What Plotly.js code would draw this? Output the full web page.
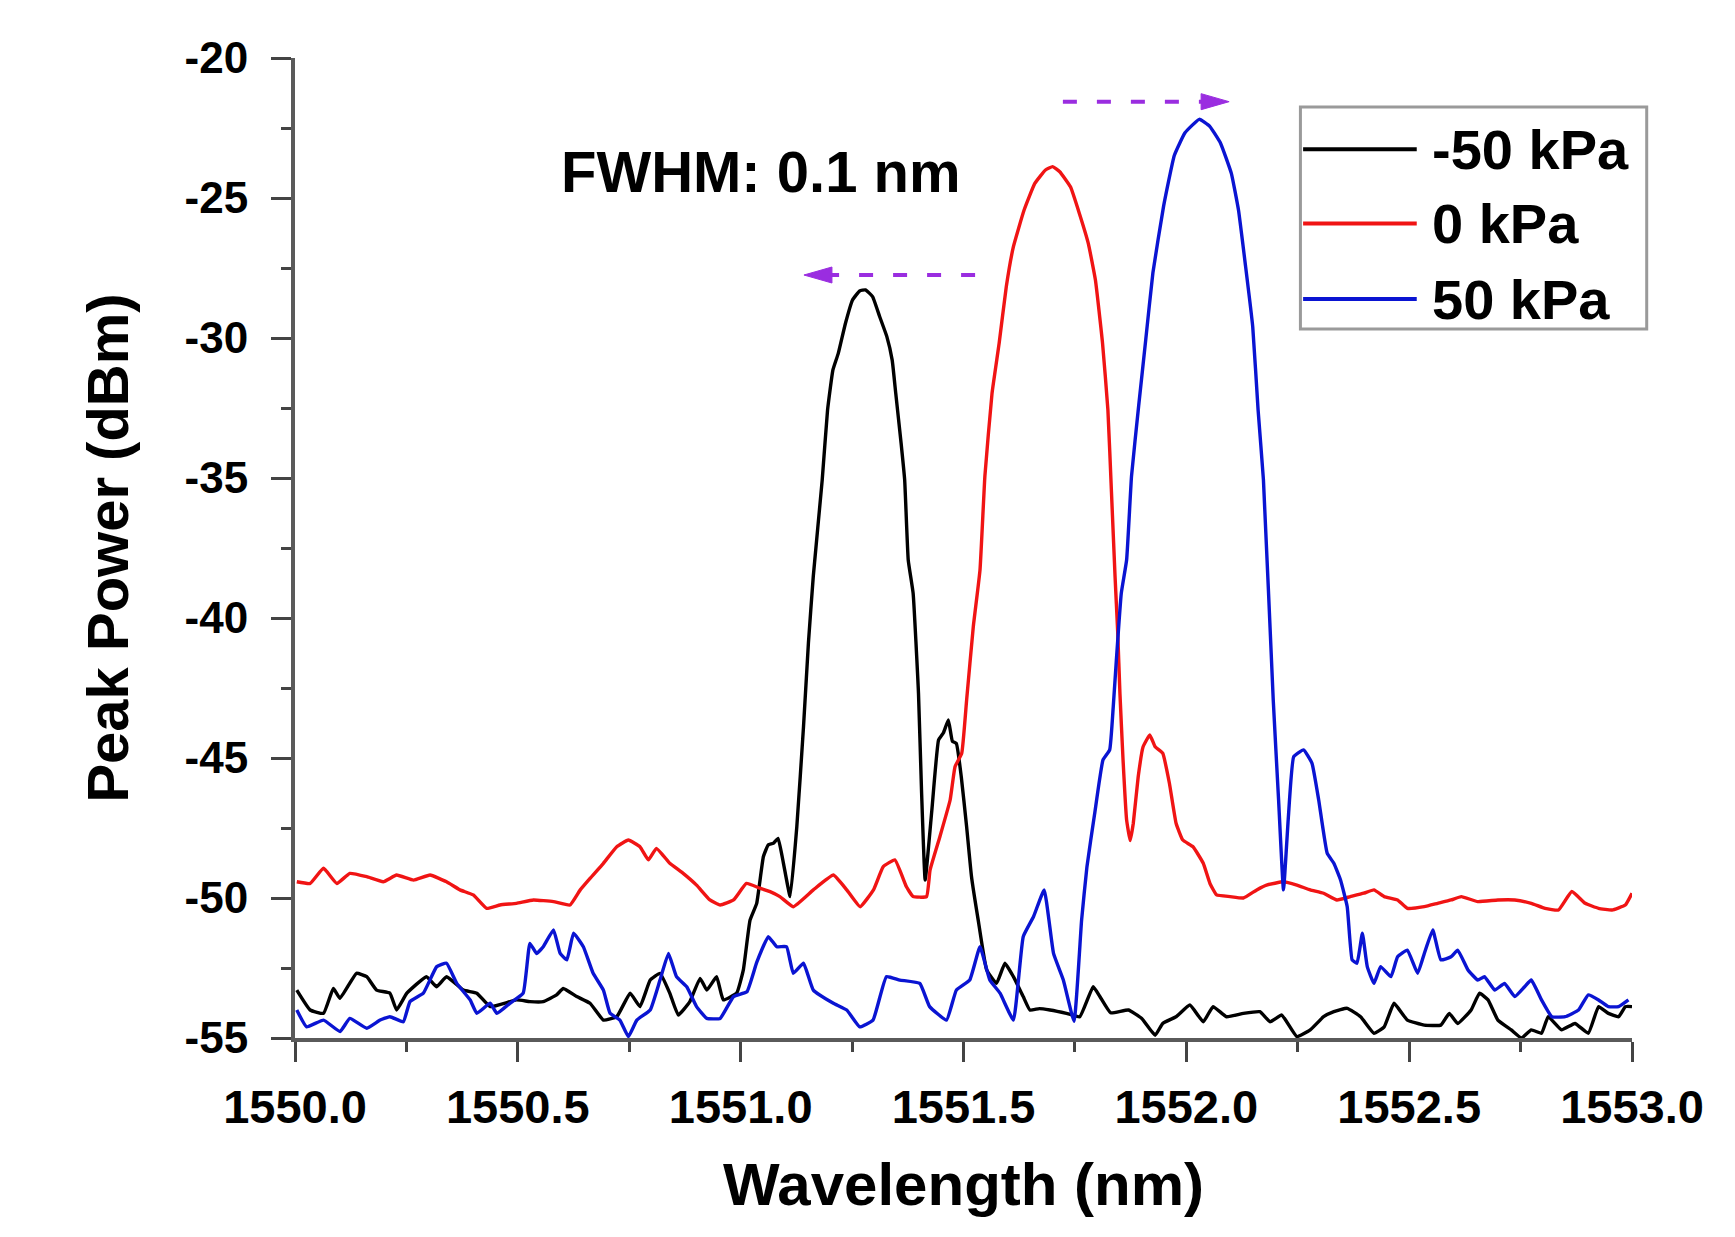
<!DOCTYPE html>
<html>
<head>
<meta charset="utf-8">
<script src="https://cdn.plot.ly/plotly-3.0.1.min.js"></script>
<style>
  body { margin: 0; background: #fff; }
  #chart { width: 1735px; height: 1237px; }
</style>
</head>
<body>
<div id="chart"></div>
<script>
// series (wavelength nm, peak power dBm)
var seriesNames = ['-50 kPa', '0 kPa', '50 kPa'];
var seriesColors = ['#000000', '#f01414', '#0a14d2'];

var blackX = [1550.004, 1550.034, 1550.064, 1550.086, 1550.101, 1550.138, 1550.161, 1550.183, 1550.213, 1550.228,
  1550.251, 1550.295, 1550.318, 1550.340, 1550.378, 1550.408, 1550.438, 1550.497, 1550.527, 1550.557,
  1550.587, 1550.602, 1550.632, 1550.662, 1550.692, 1550.722, 1550.752, 1550.774, 1550.797, 1550.819,
  1550.841, 1550.860, 1550.886, 1550.909, 1550.924, 1550.946, 1550.961, 1550.991, 1551.006, 1551.021,
  1551.036, 1551.051, 1551.062, 1551.073, 1551.084, 1551.096, 1551.111, 1551.126, 1551.141, 1551.152,
  1551.163, 1551.183, 1551.195, 1551.207, 1551.219, 1551.235, 1551.251, 1551.267, 1551.280, 1551.296,
  1551.312, 1551.328, 1551.340, 1551.348, 1551.360, 1551.368, 1551.376, 1551.387, 1551.399, 1551.406,
  1551.414, 1551.429, 1551.444, 1551.455, 1551.466, 1551.475, 1551.484, 1551.495, 1551.507, 1551.518,
  1551.533, 1551.552, 1551.574, 1551.593, 1551.612, 1551.634, 1551.649, 1551.670, 1551.694, 1551.731,
  1551.761, 1551.791, 1551.806, 1551.830, 1551.870, 1551.900, 1551.930, 1551.947, 1551.977, 1552.008,
  1552.038, 1552.060, 1552.090, 1552.128, 1552.165, 1552.188, 1552.214, 1552.248, 1552.278, 1552.308,
  1552.331, 1552.361, 1552.391, 1552.421, 1552.444, 1552.466, 1552.496, 1552.534, 1552.571, 1552.590,
  1552.609, 1552.639, 1552.658, 1552.677, 1552.699, 1552.729, 1552.752, 1552.774, 1552.797, 1552.812,
  1552.842, 1552.872, 1552.902, 1552.925, 1552.947, 1552.970, 1552.985, 1553.000];
var blackY = [-53.29, -54.00, -54.12, -53.23, -53.58, -52.69, -52.81, -53.29, -53.40, -54.00,
  -53.40, -52.81, -53.17, -52.81, -53.29, -53.40, -53.88, -53.64, -53.70, -53.70,
  -53.46, -53.23, -53.52, -53.76, -54.36, -54.24, -53.40, -53.88, -52.93, -52.69,
  -53.40, -54.18, -53.70, -52.87, -53.29, -52.81, -53.64, -53.40, -52.57, -50.79,
  -50.19, -48.52, -48.10, -48.05, -47.87, -48.76, -49.95, -47.45, -43.88, -40.90,
  -38.50, -35.07, -32.57, -31.14, -30.55, -29.48, -28.64, -28.32, -28.28, -28.52,
  -29.24, -29.95, -30.79, -31.98, -33.76, -35.07, -37.93, -39.12, -42.69, -46.26,
  -49.36, -46.86, -44.36, -44.10, -43.64, -44.40, -44.48, -45.67, -47.45, -49.24,
  -50.79, -52.57, -53.05, -52.33, -52.81, -53.52, -54.00, -53.95, -54.00, -54.12,
  -54.24, -53.17, -53.52, -54.10, -54.00, -54.30, -54.90, -54.48, -54.24, -53.82,
  -54.42, -53.88, -54.24, -54.12, -54.06, -54.42, -54.18, -54.95, -54.71, -54.24,
  -54.06, -53.94, -54.24, -54.83, -54.60, -53.76, -54.36, -54.54, -54.54, -54.12,
  -54.48, -54.00, -53.40, -53.64, -54.36, -54.71, -55.00, -54.71, -54.83, -54.24,
  -54.71, -54.48, -54.83, -53.88, -54.12, -54.24, -53.88, -53.88];

var redX = [1550.004, 1550.034, 1550.064, 1550.094, 1550.123, 1550.161, 1550.198, 1550.228, 1550.266, 1550.303,
  1550.340, 1550.370, 1550.400, 1550.430, 1550.460, 1550.497, 1550.535, 1550.580, 1550.617, 1550.640,
  1550.662, 1550.692, 1550.722, 1550.748, 1550.774, 1550.793, 1550.811, 1550.841, 1550.871, 1550.901,
  1550.931, 1550.954, 1550.984, 1551.013, 1551.043, 1551.066, 1551.088, 1551.118, 1551.163, 1551.208,
  1551.238, 1551.268, 1551.298, 1551.320, 1551.346, 1551.372, 1551.387, 1551.417, 1551.425, 1551.447,
  1551.470, 1551.481, 1551.496, 1551.507, 1551.522, 1551.537, 1551.548, 1551.564, 1551.580, 1551.596,
  1551.612, 1551.636, 1551.660, 1551.684, 1551.700, 1551.716, 1551.740, 1551.760, 1551.780, 1551.796,
  1551.812, 1551.824, 1551.832, 1551.840, 1551.846, 1551.851, 1551.858, 1551.866, 1551.874, 1551.881,
  1551.892, 1551.903, 1551.918, 1551.930, 1551.947, 1551.962, 1551.977, 1551.992, 1552.015, 1552.038,
  1552.053, 1552.068, 1552.098, 1552.128, 1552.158, 1552.180, 1552.218, 1552.248, 1552.278, 1552.308,
  1552.338, 1552.368, 1552.398, 1552.421, 1552.444, 1552.474, 1552.496, 1552.534, 1552.564, 1552.594,
  1552.617, 1552.654, 1552.699, 1552.737, 1552.774, 1552.805, 1552.835, 1552.865, 1552.895, 1552.925,
  1552.955, 1552.985, 1553.000];
var redY = [-49.42, -49.48, -48.94, -49.48, -49.12, -49.24, -49.42, -49.18, -49.36, -49.18,
  -49.42, -49.71, -49.89, -50.37, -50.25, -50.19, -50.07, -50.13, -50.25, -49.71,
  -49.30, -48.76, -48.17, -47.93, -48.17, -48.64, -48.23, -48.76, -49.12, -49.54,
  -50.07, -50.25, -50.07, -49.48, -49.65, -49.77, -49.95, -50.31, -49.71, -49.18,
  -49.71, -50.31, -49.71, -48.88, -48.64, -49.60, -49.95, -49.95, -49.00, -47.81,
  -46.50, -45.31, -44.83, -42.93, -40.31, -38.29, -34.93, -31.98, -30.19, -28.17,
  -26.74, -25.43, -24.48, -24.00, -23.88, -24.06, -24.60, -25.55, -26.62, -27.93,
  -30.19, -32.57, -35.50, -38.50, -40.50, -42.69, -45.07, -47.21, -47.95, -47.33,
  -45.67, -44.60, -44.18, -44.60, -44.83, -45.90, -47.33, -47.93, -48.17, -48.76,
  -49.48, -49.89, -49.95, -50.00, -49.71, -49.54, -49.42, -49.54, -49.71, -49.83,
  -50.07, -49.95, -49.83, -49.71, -49.95, -50.07, -50.37, -50.31, -50.19, -50.07,
  -49.95, -50.13, -50.07, -50.07, -50.19, -50.37, -50.43, -49.77, -50.19, -50.37,
  -50.43, -50.25, -49.83];

var blueX = [1550.004, 1550.026, 1550.064, 1550.101, 1550.123, 1550.161, 1550.191, 1550.213, 1550.243, 1550.258,
  1550.288, 1550.318, 1550.340, 1550.363, 1550.393, 1550.408, 1550.438, 1550.453, 1550.482, 1550.512,
  1550.527, 1550.542, 1550.557, 1550.580, 1550.595, 1550.610, 1550.625, 1550.647, 1550.669, 1550.692,
  1550.707, 1550.729, 1550.748, 1550.767, 1550.797, 1550.819, 1550.838, 1550.856, 1550.879, 1550.901,
  1550.924, 1550.954, 1550.984, 1551.014, 1551.036, 1551.062, 1551.081, 1551.103, 1551.118, 1551.141,
  1551.163, 1551.208, 1551.238, 1551.267, 1551.297, 1551.327, 1551.357, 1551.402, 1551.424, 1551.462,
  1551.484, 1551.514, 1551.537, 1551.559, 1551.582, 1551.612, 1551.634, 1551.657, 1551.681, 1551.702,
  1551.724, 1551.748, 1551.765, 1551.777, 1551.794, 1551.813, 1551.828, 1551.836, 1551.843, 1551.854,
  1551.866, 1551.877, 1551.893, 1551.909, 1551.925, 1551.949, 1551.973, 1551.997, 1552.029, 1552.053,
  1552.077, 1552.101, 1552.117, 1552.133, 1552.149, 1552.161, 1552.173, 1552.195, 1552.207, 1552.218,
  1552.229, 1552.241, 1552.263, 1552.282, 1552.297, 1552.316, 1552.331, 1552.346, 1552.361, 1552.372,
  1552.383, 1552.395, 1552.406, 1552.421, 1552.436, 1552.459, 1552.474, 1552.496, 1552.519, 1552.534,
  1552.553, 1552.571, 1552.594, 1552.609, 1552.632, 1552.654, 1552.669, 1552.692, 1552.714, 1552.737,
  1552.759, 1552.774, 1552.797, 1552.820, 1552.850, 1552.880, 1552.902, 1552.925, 1552.947, 1552.970,
  1552.992];
var blueY = [-54.00, -54.60, -54.36, -54.77, -54.30, -54.65, -54.36, -54.24, -54.42, -53.70,
  -53.40, -52.45, -52.33, -53.05, -53.64, -54.12, -53.76, -54.12, -53.76, -53.40,
  -51.62, -51.98, -51.74, -51.14, -51.98, -52.21, -51.26, -51.74, -52.69, -53.29,
  -54.12, -54.36, -54.95, -54.36, -54.00, -52.93, -51.98, -52.81, -53.17, -53.88,
  -54.30, -54.30, -53.52, -53.35, -52.30, -51.38, -51.74, -51.74, -52.69, -52.33,
  -53.29, -53.76, -54.00, -54.60, -54.36, -52.81, -52.93, -53.05, -53.88, -54.36,
  -53.29, -52.93, -51.74, -52.93, -53.40, -54.36, -51.38, -50.67, -49.71, -51.98,
  -52.93, -54.40, -50.79, -48.88, -47.02, -45.07, -44.71, -43.17, -41.50, -39.12,
  -37.93, -34.93, -32.43, -30.05, -27.67, -25.29, -23.48, -22.67, -22.19, -22.45,
  -23.05, -24.12, -25.43, -27.45, -29.60, -32.57, -35.07, -42.93, -46.50, -49.71,
  -47.10, -44.95, -44.71, -45.19, -46.50, -48.40, -48.76, -49.36, -50.31, -52.21,
  -52.33, -51.26, -52.45, -53.05, -52.45, -52.81, -52.10, -51.86, -52.69, -51.98,
  -51.14, -52.21, -52.10, -51.86, -52.57, -52.93, -52.81, -53.29, -53.05, -53.52,
  -53.17, -52.93, -53.64, -54.24, -54.24, -54.00, -53.46, -53.64, -53.88, -53.88,
  -53.64];

var xTickVals = [1550.0, 1550.5, 1551.0, 1551.5, 1552.0, 1552.5, 1553.0];
var xTickText = ['1550.0', '1550.5', '1551.0', '1551.5', '1552.0', '1552.5', '1553.0'];
var yTickVals = [-55, -50, -45, -40, -35, -30, -25, -20];
var yTickText = ['-55', '-50', '-45', '-40', '-35', '-30', '-25', '-20'];

// shift arrows: [x start, x tip, y]
var shiftLeft = [1551.526, 1551.142, -27.75];
var shiftRight = [1551.723, 1552.096, -21.56];
var noteText = 'FWHM: 0.1 nm';
var notePos = [1551.046, -24.04];

var fontFam = '"Liberation Sans", Arial, Helvetica, sans-serif';
var arrowColor = '#9a2de0';

var traces = [
  { x: blackX, y: blackY, name: seriesNames[0], mode: 'lines', line: { color: seriesColors[0], width: 3.4, shape: 'spline', smoothing: 0.35 } },
  { x: redX, y: redY, name: seriesNames[1], mode: 'lines', line: { color: seriesColors[1], width: 3.4, shape: 'spline', smoothing: 0.35 } },
  { x: blueX, y: blueY, name: seriesNames[2], mode: 'lines', line: { color: seriesColors[2], width: 3.4, shape: 'spline', smoothing: 0.35 } }
];

var shapes = [];
var annotations = [];

// legend drawn by hand so the sample lines can be long like the original
var legRows = [0.907, 0.831, 0.754];
shapes.push({ type: 'rect', xref: 'paper', yref: 'paper', x0: 0.752, x1: 1.011, y0: 0.7235, y1: 0.950,
  line: { color: '#9a9a9a', width: 3 }, fillcolor: 'rgba(255,255,255,0)' });
for (var i = 0; i < seriesNames.length; i++) {
  shapes.push({ type: 'line', xref: 'paper', yref: 'paper', x0: 0.754, x1: 0.839, y0: legRows[i], y1: legRows[i],
    line: { color: seriesColors[i], width: 4 } });
  annotations.push({ xref: 'paper', yref: 'paper', x: 0.849, y: legRows[i], xanchor: 'left', yanchor: 'middle',
    text: seriesNames[i], showarrow: false, font: { family: fontFam, size: 56, weight: 'bold', color: '#000' } });
}

// dashed arrows
[shiftLeft, shiftRight].forEach(function (a) {
  var dir = a[1] > a[0] ? 1 : -1;
  shapes.push({ type: 'line', xref: 'x', yref: 'y', x0: a[0], x1: a[1] - dir * 0.045, y0: a[2], y1: a[2],
    line: { color: arrowColor, width: 4, dash: '14px,20px' } });
  shapes.push({ type: 'path', xref: 'x', yref: 'y', xsizemode: 'pixel', ysizemode: 'pixel',
    xanchor: a[1], yanchor: a[2],
    path: dir < 0 ? 'M0,0 L28,8 L28,-8 Z' : 'M0,0 L-28,8 L-28,-8 Z',
    fillcolor: arrowColor, line: { color: arrowColor, width: 1 } });
});

annotations.push({ x: notePos[0], y: notePos[1], xref: 'x', yref: 'y', text: noteText, showarrow: false,
  xanchor: 'center', yanchor: 'middle', font: { family: fontFam, size: 58, weight: 'bold', color: '#000' } });

var axisCommon = {
  showgrid: false, zeroline: false, showline: true, linecolor: '#5a5a5a', linewidth: 4,
  ticks: 'outside', ticklen: 20, tickwidth: 3, tickcolor: '#444', mirror: false, fixedrange: true
};

var layout = {
  width: 1735, height: 1237,
  margin: { l: 295, r: 103, t: 58, b: 199 },
  paper_bgcolor: '#ffffff', plot_bgcolor: '#ffffff',
  showlegend: false,
  font: { family: fontFam, color: '#000' },
  xaxis: Object.assign({}, axisCommon, {
    range: [1550, 1553], tickmode: 'array', tickvals: xTickVals, ticktext: xTickText,
    minor: { dtick: 0.25, tick0: 1550, ticks: 'outside', ticklen: 10, tickwidth: 3, tickcolor: '#444' },
    tickfont: { family: fontFam, size: 47, weight: 'bold', color: '#000' }, ticklabelstandoff: 5,
    title: { text: 'Wavelength (nm)', standoff: 32, font: { family: fontFam, size: 60, weight: 'bold', color: '#000' } }
  }),
  yaxis: Object.assign({}, axisCommon, {
    range: [-55, -20], tickmode: 'array', tickvals: yTickVals, ticktext: yTickText,
    minor: { dtick: 2.5, tick0: -55, ticks: 'outside', ticklen: 10, tickwidth: 3, tickcolor: '#444' },
    tickfont: { family: fontFam, size: 44, weight: 'bold', color: '#000' }, ticklabelstandoff: 14,
    title: { text: 'Peak Power (dBm)', standoff: 38, font: { family: fontFam, size: 58, weight: 'bold', color: '#000' } }
  }),
  shapes: shapes,
  annotations: annotations
};

Plotly.newPlot('chart', traces, layout, { displayModeBar: false, staticPlot: true });
</script>
</body>
</html>
